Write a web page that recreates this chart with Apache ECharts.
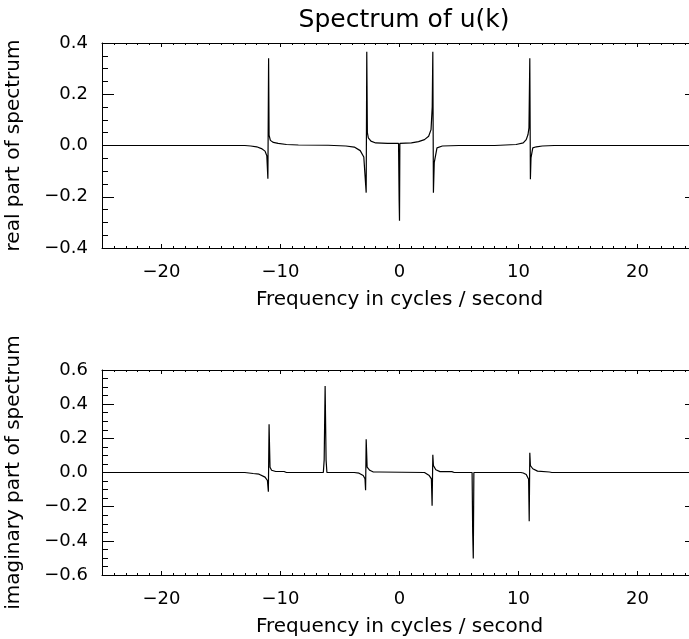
<!DOCTYPE html>
<html>
<head>
<meta charset="utf-8">
<script src="https://cdn.jsdelivr.net/npm/echarts@6/dist/echarts.min.js"></script>
<style>html,body{margin:0;padding:0;background:#fff}#c{width:689px;height:639px}</style>
</head>
<body>
<div id="c"></div>
<script>
// ---- data ----
const titleText = 'Spectrum of u(k)';
const xName = 'Frequency in cycles / second';
const realName = 'real part of spectrum';
const imagName = 'imaginary part of spectrum';
const xTicks = [-20, -10, 0, 10, 20];
const realTicks = [-0.4, -0.2, 0.0, 0.2, 0.4];
const imagTicks = [-0.6, -0.4, -0.2, 0.0, 0.2, 0.4, 0.6];

const realFreq = [-25, -13, -12.5, -12.0, -11.6, -11.3, -11.15, -11.06, -11.0, -10.96, -10.85, -10.6, -10.2, -9.5, -8.5, -6,
  -4.5, -3.8, -3.3, -3.0, -2.8, -2.75, -2.7, -2.62, -2.4, -2.0, -1.0, -0.08, -0.03, 0, 0.03, 0.08,
  1.0, 1.6, 2.1, 2.45, 2.65, 2.75, 2.8, 2.85, 2.92, 3.15, 3.6, 5, 8, 9.8, 10.4, 10.65, 10.8, 10.88,
  10.95, 11.0, 11.05, 11.2, 11.5, 12.0, 13, 25];
const realPart = [0, 0, -0.002, -0.005, -0.012, -0.022, -0.04, -0.13, 0.34, 0.04, 0.02, 0.012, 0.008, 0.004, 0.002, 0.001,
  -0.002, -0.006, -0.02, -0.045, -0.184, 0.366, 0.05, 0.03, 0.017, 0.01, 0.008, 0.008, -0.216, -0.294, 0.008, 0.008,
  0.01, 0.015, 0.023, 0.036, 0.062, 0.15, 0.366, -0.184, -0.067, -0.009, -0.002, 0, 0, 0.004, 0.01, 0.023, 0.043, 0.069,
  0.34, -0.132, -0.048, -0.009, -0.005, -0.002, 0, 0];

const imagFreq = [-25, -13, -12.3, -11.8, -11.3, -11.1, -11.02, -10.96, -10.92, -10.88, -10.75, -10.4, -9.7, -9.5,
  -6.4, -6.33, -6.25, -6.17, -6.1, -3.8, -3.4, -3.05, -2.9, -2.85, -2.8, -2.72, -2.5, -2.2, -1.7, -1.6,
  2.1, 2.2, 2.5, 2.68, 2.74, 2.8, 2.85, 3.05, 3.4, 4.4, 4.6, 6.1, 6.15, 6.2, 6.25,
  10.2, 10.4, 10.65, 10.85, 10.9, 10.95, 11.0, 11.2, 11.6, 12.6, 12.8, 25];
const imagPart = [0, 0, -0.006, -0.01, -0.027, -0.047, -0.112, 0.282, 0.15, 0.031, 0.013, 0.006, 0.006, 0,
  0, 0.074, 0.506, 0.074, 0, 0, -0.004, -0.018, -0.037, -0.104, 0.194, 0.031, 0.013, 0.003, 0.003, 0,
  0, -0.003, -0.018, -0.037, -0.194, 0.104, 0.041, 0.016, 0.005, 0.005, 0, 0, -0.35, -0.504, 0,
  0, -0.003, -0.012, -0.04, -0.286, 0.116, 0.041, 0.022, 0.008, 0.003, 0, 0];

// ---- chart ----
const FONT = 'DejaVu Sans';
const minus = s => s.replace('-', '\u2212');
const fmtX = v => minus(String(Math.round(v)));
const fmtY = v => minus((Math.abs(v) < 1e-9 ? 0 : v).toFixed(1));

function pairs(xs, ys) { return xs.map((x, i) => [x, ys[i]]); }

const grids = [
  { left: 102, top: 43, width: 595, height: 205, outerBoundsMode: 'none', containLabel: false },
  { left: 102, top: 370, width: 595, height: 205, outerBoundsMode: 'none', containLabel: false }
];

const xAxes = [];
const yAxes = [];
[0, 1].forEach(g => {
  xAxes.push({
    type: 'value', gridIndex: g, min: -25, max: 25, position: 'bottom',
    axisLine: { show: true, onZero: false, lineStyle: { color: '#000', width: 1 } },
    axisTick: { show: true, inside: true, length: 4, customValues: xTicks, lineStyle: { color: '#000' } },
    axisLabel: { show: true, customValues: xTicks, formatter: fmtX, color: '#000', fontFamily: FONT, fontSize: 18, margin: 15 },
    splitLine: { show: false },
    name: xName, nameLocation: 'middle', nameGap: 42,
    nameTextStyle: { color: '#000', fontFamily: FONT, fontSize: 20 }
  });
  xAxes.push({
    type: 'value', gridIndex: g, min: -25, max: 25, interval: 1, position: 'bottom',
    axisLine: { show: false, onZero: false },
    axisTick: { show: true, inside: true, length: 2, lineStyle: { color: '#000' } },
    axisLabel: { show: false }, splitLine: { show: false }
  });
  xAxes.push({
    type: 'value', gridIndex: g, min: -25, max: 25, position: 'top',
    axisLine: { show: true, onZero: false, lineStyle: { color: '#000', width: 1 } },
    axisTick: { show: true, inside: true, length: 4, customValues: xTicks, lineStyle: { color: '#000' } },
    axisLabel: { show: false }, splitLine: { show: false }
  });
  xAxes.push({
    type: 'value', gridIndex: g, min: -25, max: 25, interval: 1, position: 'top',
    axisLine: { show: false, onZero: false },
    axisTick: { show: true, inside: true, length: 2, lineStyle: { color: '#000' } },
    axisLabel: { show: false }, splitLine: { show: false }
  });
  const ticks = g === 0 ? realTicks : imagTicks;
  yAxes.push({
    type: 'value', gridIndex: g, min: ticks[0], max: ticks[ticks.length - 1], interval: 0.2, position: 'left',
    axisLine: { show: true, onZero: false, lineStyle: { color: '#000', width: 1 } },
    axisTick: { show: true, inside: true, length: 12, lineStyle: { color: '#000' } },
    minorTick: { show: true, splitNumber: 4, length: 6, lineStyle: { color: '#000' } },
    axisLabel: { show: true, formatter: fmtY, color: '#000', fontFamily: FONT, fontSize: 18, margin: 14 },
    splitLine: { show: false },
    name: g === 0 ? realName : imagName, nameLocation: 'middle', nameGap: 78,
    nameTextStyle: { color: '#000', fontFamily: FONT, fontSize: 20 }
  });
  yAxes.push({
    type: 'value', gridIndex: g, min: ticks[0], max: ticks[ticks.length - 1], interval: 0.2, position: 'right',
    axisLine: { show: true, onZero: false, lineStyle: { color: '#000', width: 1 } },
    axisTick: { show: true, inside: true, length: 12, lineStyle: { color: '#000' } },
    minorTick: { show: true, splitNumber: 4, length: 6, lineStyle: { color: '#000' } },
    axisLabel: { show: false }, splitLine: { show: false }
  });
});

const option = {
  backgroundColor: '#fff',
  animation: false,
  title: {
    text: titleText, left: 399, top: 3, textAlign: 'center',
    textStyle: { color: '#000', fontFamily: FONT, fontSize: 25, fontWeight: 'normal' }
  },
  grid: grids,
  xAxis: xAxes,
  yAxis: yAxes,
  series: [
    {
      type: 'line', xAxisIndex: 0, yAxisIndex: 0, data: pairs(realFreq, realPart),
      showSymbol: false, symbol: 'none', lineStyle: { color: '#000', width: 1.2 }, silent: true
    },
    {
      type: 'line', xAxisIndex: 4, yAxisIndex: 2, data: pairs(imagFreq, imagPart),
      showSymbol: false, symbol: 'none', lineStyle: { color: '#000', width: 1.2 }, silent: true
    }
  ]
};

const chart = echarts.init(document.getElementById('c'), null, { renderer: 'canvas' });
chart.setOption(option);
</script>
</body>
</html>
